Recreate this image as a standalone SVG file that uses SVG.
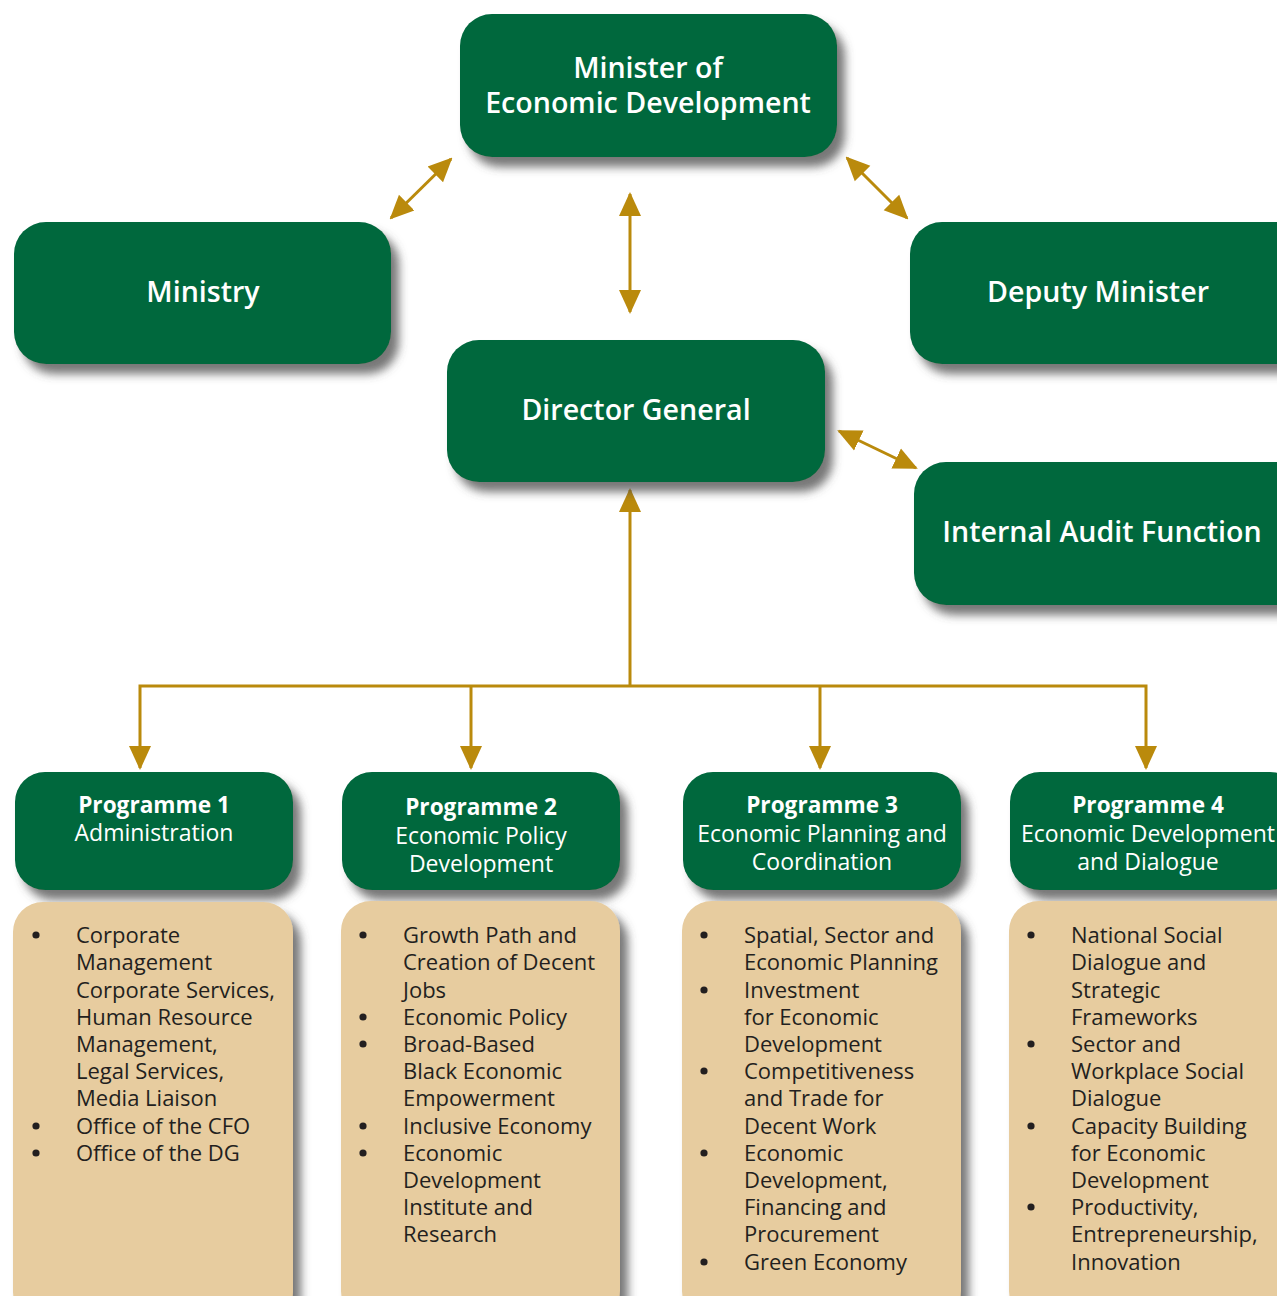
<svg xmlns="http://www.w3.org/2000/svg" width="1277" height="1296" viewBox="0 0 1277 1296">
  <style>
    .box { fill: #03673D; filter: url(#shadow); }
    .list { fill: #E7CC9F; filter: url(#shadow); }
    .title { font-family: "Open Sans", "Liberation Sans", sans-serif; font-weight: 600; font-size: 28.6px; fill: #FFFFFF; text-anchor: middle; }
    .phead { font-family: "Open Sans", "Liberation Sans", sans-serif; font-weight: 700; font-size: 22.6px; fill: #FFFFFF; text-anchor: middle; }
    .psub { font-family: "Open Sans", "Liberation Sans", sans-serif; font-weight: 400; font-size: 23px; fill: #FFFFFF; text-anchor: middle; }
    .item { font-family: "Open Sans", "Liberation Sans", sans-serif; font-weight: 400; font-size: 22px; fill: #231F20; }
    .dot { fill: #231F20; }
    .link { stroke: #BA8A0C; stroke-width: 3; fill: none; }
  </style>
  <defs>
    <filter id="shadow" x="-10%" y="-10%" width="130%" height="140%">
      <feDropShadow dx="8" dy="10" stdDeviation="5" flood-color="#4a4a4a" flood-opacity="0.75"/>
    </filter>
    <marker id="head" viewBox="0 0 24 24" refX="22" refY="12" markerWidth="24" markerHeight="24" markerUnits="userSpaceOnUse" orient="auto-start-reverse">
      <path d="M0,1 L24,12 L0,23 Z" fill="#BA8A0C"/>
    </marker>
  </defs>

  <!-- connectors -->
  <g id="connectors">
    <line class="link" x1="391" y1="218" x2="451" y2="159" marker-start="url(#head)" marker-end="url(#head)"/>
    <line class="link" x1="630" y1="194" x2="630" y2="312" marker-start="url(#head)" marker-end="url(#head)"/>
    <line class="link" x1="847" y1="158" x2="907" y2="218" marker-start="url(#head)" marker-end="url(#head)"/>
    <line class="link" x1="839" y1="431" x2="916" y2="468" marker-start="url(#head)" marker-end="url(#head)"/>
    <line class="link" x1="630" y1="686" x2="630" y2="490" marker-end="url(#head)"/>
    <polyline class="link" points="140,768 140,686 1146,686 1146,768" marker-start="url(#head)" marker-end="url(#head)"/>
    <line class="link" x1="471" y1="686" x2="471" y2="768" marker-end="url(#head)"/>
    <line class="link" x1="820" y1="686" x2="820" y2="768" marker-end="url(#head)"/>
  </g>

  <g id="minister">
    <rect class="box" x="460" y="14" width="377" height="143" rx="32"/>
    <text class="title" x="648" y="78">Minister of</text>
    <text class="title" x="648" y="113">Economic Development</text>
  </g>

  <g id="ministry">
    <rect class="box" x="14" y="222" width="377" height="142" rx="32"/>
    <text class="title" x="203" y="302">Ministry</text>
  </g>

  <g id="deputy-minister">
    <rect class="box" x="910" y="222" width="400" height="142" rx="32"/>
    <text class="title" x="1098" y="302">Deputy Minister</text>
  </g>

  <g id="director-general">
    <rect class="box" x="447" y="340" width="378" height="142" rx="32"/>
    <text class="title" x="636" y="420">Director General</text>
  </g>

  <g id="internal-audit">
    <rect class="box" x="914" y="462" width="400" height="143" rx="32"/>
    <text class="title" x="1102" y="542">Internal Audit Function</text>
  </g>

  <!-- Programme 1 -->
  <g id="programme-1">
    <rect class="box" x="15" y="772" width="278" height="118" rx="30"/>
    <text class="phead" x="154" y="813">Programme 1</text>
    <text class="psub" x="154" y="841">Administration</text>
  </g>
  <g id="programme-1-list">
    <rect class="list" x="13" y="902" width="280" height="420" rx="30"/>
    <g class="dot">
      <circle cx="36" cy="935" r="3.6"/>
      <circle cx="36" cy="1126" r="3.6"/>
      <circle cx="36" cy="1153" r="3.6"/>
    </g>
    <g class="item">
      <text x="76" y="943">Corporate</text>
      <text x="76" y="970">Management</text>
      <text x="76" y="998">Corporate Services,</text>
      <text x="76" y="1025">Human Resource</text>
      <text x="76" y="1052">Management,</text>
      <text x="76" y="1079">Legal Services,</text>
      <text x="76" y="1106">Media Liaison</text>
      <text x="76" y="1134">Office of the CFO</text>
      <text x="76" y="1161">Office of the DG</text>
    </g>
  </g>

  <!-- Programme 2 -->
  <g id="programme-2">
    <rect class="box" x="342" y="772" width="278" height="118" rx="30"/>
    <text class="phead" x="481" y="815">Programme 2</text>
    <text class="psub" x="481" y="844">Economic Policy</text>
    <text class="psub" x="481" y="872">Development</text>
  </g>
  <g id="programme-2-list">
    <rect class="list" x="341" y="901" width="279" height="420" rx="30"/>
    <g class="dot">
      <circle cx="363" cy="935" r="3.6"/>
      <circle cx="363" cy="1017" r="3.6"/>
      <circle cx="363" cy="1044" r="3.6"/>
      <circle cx="363" cy="1126" r="3.6"/>
      <circle cx="363" cy="1153" r="3.6"/>
    </g>
    <g class="item">
      <text x="403" y="943">Growth Path and</text>
      <text x="403" y="970">Creation of Decent</text>
      <text x="403" y="998">Jobs</text>
      <text x="403" y="1025">Economic Policy</text>
      <text x="403" y="1052">Broad-Based</text>
      <text x="403" y="1079">Black Economic</text>
      <text x="403" y="1106">Empowerment</text>
      <text x="403" y="1134">Inclusive Economy</text>
      <text x="403" y="1161">Economic</text>
      <text x="403" y="1188">Development</text>
      <text x="403" y="1215">Institute and</text>
      <text x="403" y="1242">Research</text>
    </g>
  </g>

  <!-- Programme 3 -->
  <g id="programme-3">
    <rect class="box" x="683" y="772" width="278" height="118" rx="30"/>
    <text class="phead" x="822" y="813">Programme 3</text>
    <text class="psub" x="822" y="842">Economic Planning and</text>
    <text class="psub" x="822" y="870">Coordination</text>
  </g>
  <g id="programme-3-list">
    <rect class="list" x="682" y="901" width="279" height="420" rx="30"/>
    <g class="dot">
      <circle cx="704" cy="935" r="3.6"/>
      <circle cx="704" cy="990" r="3.6"/>
      <circle cx="704" cy="1071" r="3.6"/>
      <circle cx="704" cy="1153" r="3.6"/>
      <circle cx="704" cy="1262" r="3.6"/>
    </g>
    <g class="item">
      <text x="744" y="943">Spatial, Sector and</text>
      <text x="744" y="970">Economic Planning</text>
      <text x="744" y="998">Investment</text>
      <text x="744" y="1025">for Economic</text>
      <text x="744" y="1052">Development</text>
      <text x="744" y="1079">Competitiveness</text>
      <text x="744" y="1106">and Trade for</text>
      <text x="744" y="1134">Decent Work</text>
      <text x="744" y="1161">Economic</text>
      <text x="744" y="1188">Development,</text>
      <text x="744" y="1215">Financing and</text>
      <text x="744" y="1242">Procurement</text>
      <text x="744" y="1270">Green Economy</text>
    </g>
  </g>

  <!-- Programme 4 -->
  <g id="programme-4">
    <rect class="box" x="1010" y="772" width="290" height="118" rx="30"/>
    <text class="phead" x="1148" y="813">Programme 4</text>
    <text class="psub" x="1148" y="842">Economic Development</text>
    <text class="psub" x="1148" y="870">and Dialogue</text>
  </g>
  <g id="programme-4-list">
    <rect class="list" x="1009" y="901" width="300" height="420" rx="30"/>
    <g class="dot">
      <circle cx="1031" cy="935" r="3.6"/>
      <circle cx="1031" cy="1044" r="3.6"/>
      <circle cx="1031" cy="1126" r="3.6"/>
      <circle cx="1031" cy="1207" r="3.6"/>
    </g>
    <g class="item">
      <text x="1071" y="943">National Social</text>
      <text x="1071" y="970">Dialogue and</text>
      <text x="1071" y="998">Strategic</text>
      <text x="1071" y="1025">Frameworks</text>
      <text x="1071" y="1052">Sector and</text>
      <text x="1071" y="1079">Workplace Social</text>
      <text x="1071" y="1106">Dialogue</text>
      <text x="1071" y="1134">Capacity Building</text>
      <text x="1071" y="1161">for Economic</text>
      <text x="1071" y="1188">Development</text>
      <text x="1071" y="1215">Productivity,</text>
      <text x="1071" y="1242">Entrepreneurship,</text>
      <text x="1071" y="1270">Innovation</text>
    </g>
  </g>
</svg>
